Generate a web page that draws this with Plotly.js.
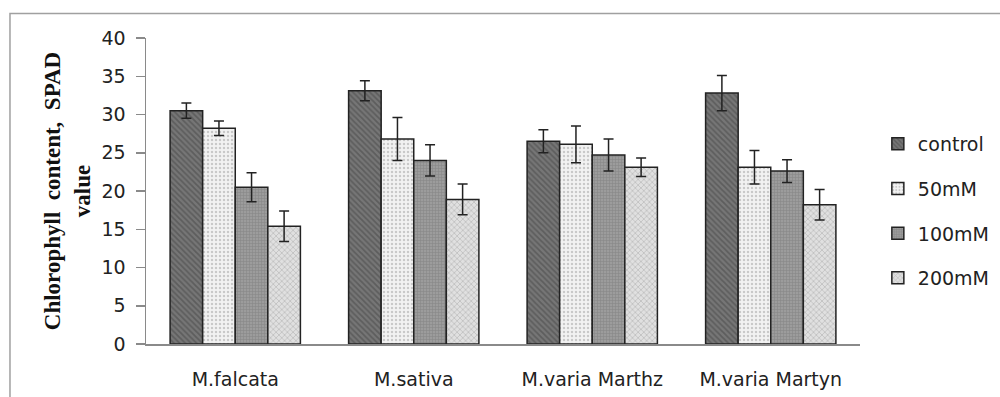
<!DOCTYPE html>
<html>
<head>
<meta charset="utf-8">
<script src="https://cdn.plot.ly/plotly-3.0.1.min.js"></script>
<style>
  html, body { margin: 0; padding: 0; background: #fff; }
  #chart { width: 1000px; height: 397px; }
</style>
</head>
<body>
<div id="chart"></div>
<script>
const categories = ["M.falcata", "M.sativa", "M.varia Marthz", "M.varia Martyn"];
const seriesNames = ["control", "50mM", "100mM", "200mM"];
const controlVals = [30.5, 33.1, 26.5, 32.8];
const controlErr  = [1.0, 1.3, 1.5, 2.3];
const mM50Vals    = [28.2, 26.8, 26.1, 23.1];
const mM50Err     = [0.95, 2.8, 2.4, 2.2];
const mM100Vals   = [20.5, 24.0, 24.7, 22.6];
const mM100Err    = [1.9, 2.05, 2.1, 1.5];
const mM200Vals   = [15.4, 18.9, 23.1, 18.2];
const mM200Err    = [2.0, 2.0, 1.2, 2.0];
const yTickVals   = [0, 5, 10, 15, 20, 25, 30, 35, 40];

const values = [controlVals, mM50Vals, mM100Vals, mM200Vals];
const errors = [controlErr, mM50Err, mM100Err, mM200Err];
const patterns = [
  {shape: "\\", bgcolor: "#767676", fgcolor: "#444444", size: 4, solidity: 0.45},
  {shape: ".",  bgcolor: "#f2f2f2", fgcolor: "#a0a0a0", size: 4, solidity: 0.3},
  {shape: "+",  bgcolor: "#9c9c9c", fgcolor: "#737373", size: 3, solidity: 0.35},
  {shape: "x",  bgcolor: "#e0e0e0", fgcolor: "#999999", size: 4, solidity: 0.35}
];
const tickFont = "'DejaVu Sans', 'Open Sans', sans-serif";

const traces = seriesNames.map((name, i) => ({
  type: "bar",
  name: name,
  x: categories,
  y: values[i],
  legendgroup: name,
  marker: {
    color: patterns[i].bgcolor,
    line: {color: "#222222", width: 1.5},
    pattern: Object.assign({fillmode: "overlay"}, patterns[i])
  },
  error_y: {type: "data", array: errors[i], visible: true, color: "#222222", thickness: 1.5, width: 5}
}));

const layout = {
  width: 1000, height: 397,
  margin: {l: 146, r: 140, t: 38, b: 53, pad: 0, autoexpand: false},
  paper_bgcolor: "#ffffff",
  plot_bgcolor: "#ffffff",
  barmode: "group",
  bargap: 0.27,
  bargroupgap: 0,
  showlegend: true,
  legend: {
    x: 1.025, xanchor: "left", y: 0.435, yanchor: "middle",
    traceorder: "grouped", tracegroupgap: 17,
    font: {family: tickFont, size: 19, color: "#222222"},
    bgcolor: "rgba(0,0,0,0)"
  },
  xaxis: {
    type: "category",
    showline: true, linecolor: "#8a8a8a", linewidth: 1.5,
    ticks: "", showgrid: false, zeroline: false,
    tickfont: {family: tickFont, size: 19, color: "#222222"},
    ticklabelstandoff: 18
  },
  yaxis: {
    range: [0, 40],
    tickvals: yTickVals,
    showline: true, linecolor: "#8a8a8a", linewidth: 1.5,
    ticks: "outside", ticklen: 9, tickcolor: "#8a8a8a", tickwidth: 1.5,
    showgrid: false, zeroline: false,
    tickfont: {family: tickFont, size: 19, color: "#222222"},
    ticklabelstandoff: 6,
    title: {
      text: "Chlorophyll  content,  SPAD<br>value",
      font: {family: "'Liberation Serif', 'Times New Roman', serif", size: 23, color: "#111111", weight: "bold"},
      standoff: 4
    }
  },
  shapes: [
    {type: "rect", xref: "paper", yref: "paper", x0: -0.1905, x1: 1.4, y0: -0.4, y1: 1.08,
     line: {color: "#a0a0a0", width: 1.5}, fillcolor: "rgba(0,0,0,0)", layer: "below"},
    {type: "line", xref: "paper", yref: "paper", x0: -0.013, x1: 0, y0: 0, y1: 0,
     line: {color: "#8a8a8a", width: 1.5}}
  ]
};

Plotly.newPlot("chart", traces, layout, {staticPlot: true, displayModeBar: false});
</script>
</body>
</html>
